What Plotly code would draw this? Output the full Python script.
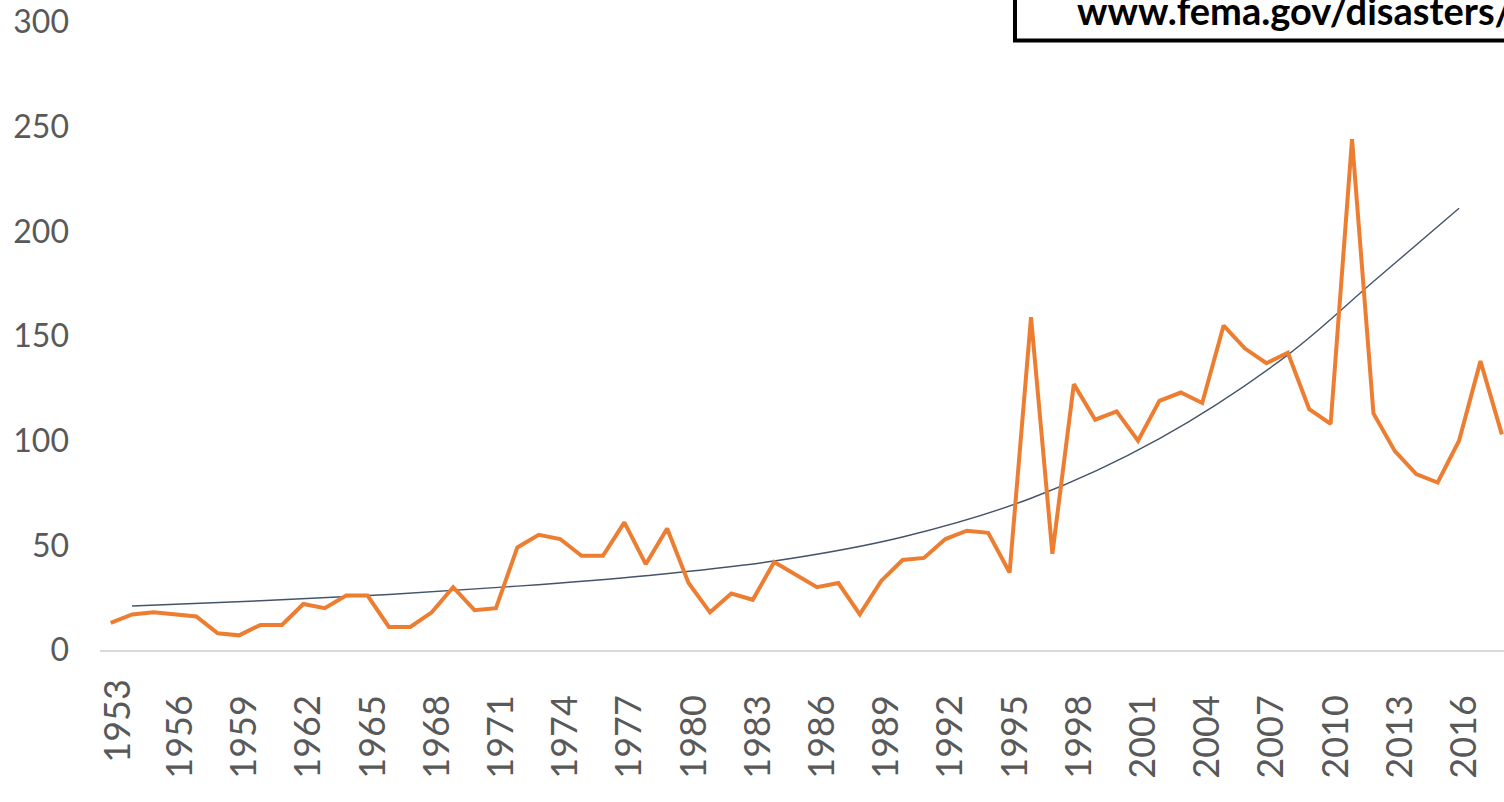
import plotly.graph_objects as go

# Yearly counts
years = list(range(1953, 2019))
values = [13, 17, 18, 17, 16, 8, 7, 12, 12, 22, 20, 26, 26, 11, 11, 18, 30, 19, 20,
          49, 55, 53, 45, 45, 61, 41, 58, 32, 18, 27, 24, 42, 36, 30, 32, 17, 33,
          43, 44, 53, 57, 56, 37, 159, 46, 127, 110, 114, 100, 119, 123, 118, 155,
          144, 137, 142, 115, 108, 244, 113, 95, 84, 80, 100, 138, 103]

# Trend curve values
trend_years = [1954, 1960, 1966, 1972, 1978, 1984, 1990, 1996, 2002, 2008, 2012, 2016]
trend_vals = [21, 23.5, 26.5, 30.5, 35.5, 42.5, 54, 72.5, 101, 141, 176, 211]

first_label_year = 1953
x_tick_years = list(range(1956, 2017, 3))
x_tick_labels = [str(y) for y in x_tick_years]
y_ticks = [0, 50, 100, 150, 200, 250, 300]

source_text = "www.fema.gov/disasters/"

FONT = "Lato"
GRAY = "#595959"
X_RANGE = [1952.5, 2018.1]
LABEL_SHIFT = 0.25  # labels sit slightly right of their categories in the reference

fig = go.Figure()
fig.add_trace(go.Scatter(
    x=trend_years, y=trend_vals, mode="lines",
    line=dict(color="#44546A", width=1.4, shape="spline"),
    hoverinfo="skip", showlegend=False))
fig.add_trace(go.Scatter(
    x=years, y=values, mode="lines",
    line=dict(color="#ED7D31", width=4),
    showlegend=False))
# carrier for the label axis
fig.add_trace(go.Scatter(
    x=x_tick_years, y=[None] * len(x_tick_years), xaxis="x2",
    mode="lines", hoverinfo="skip", showlegend=False))

fig.update_layout(
    width=1504, height=802, autosize=False,
    margin=dict(l=100, r=0, t=22, b=152, pad=0),
    paper_bgcolor="white", plot_bgcolor="white",
    font=dict(family=FONT, size=32, color=GRAY),
    xaxis=dict(
        range=X_RANGE, showticklabels=False,
        showgrid=False, zeroline=False,
        showline=True, linecolor="#D9D9D9", linewidth=1.5, ticks=""),
    xaxis2=dict(
        overlaying="x", anchor="y", side="bottom",
        range=[X_RANGE[0] - LABEL_SHIFT, X_RANGE[1] - LABEL_SHIFT],
        tickmode="array", tickvals=x_tick_years, ticktext=x_tick_labels,
        tickangle=-90, showgrid=False, zeroline=False, showline=False,
        ticks="", tickfont=dict(family=FONT, size=36, color=GRAY),
        ticklabelstandoff=37, ticklabeloverflow="allow"),
    yaxis=dict(
        range=[0, 300], tickmode="array", tickvals=y_ticks,
        showgrid=False, zeroline=False, showline=False, ticks="",
        tickfont=dict(family=FONT, size=32, color=GRAY),
        ticklabelstandoff=30, ticklabeloverflow="allow"),
)

# first category label (sits a little higher than the others in the reference)
fig.add_annotation(xref="x", yref="paper", x=first_label_year, y=0,
                   xanchor="center", yanchor="middle", yshift=-71, xshift=5,
                   textangle=-90, text=str(first_label_year), showarrow=False,
                   font=dict(family=FONT, size=36, color=GRAY))

fig.add_shape(type="rect", xref="paper", yref="paper",
              x0=0.6517, x1=1.2, y0=0.9705, y1=1.2,
              line=dict(color="black", width=4), fillcolor="white", layer="above")
fig.add_annotation(xref="paper", yref="paper", x=0.6944, y=1.0,
                   xanchor="left", yanchor="bottom", yshift=-13,
                   text="<b>" + source_text + "</b>", showarrow=False,
                   font=dict(family=FONT, size=38, color="black"))

fig.write_html("out.html",
               config={"displayModeBar": False},
               post_script="document.body.style.margin='0';document.body.style.overflow='hidden';")
